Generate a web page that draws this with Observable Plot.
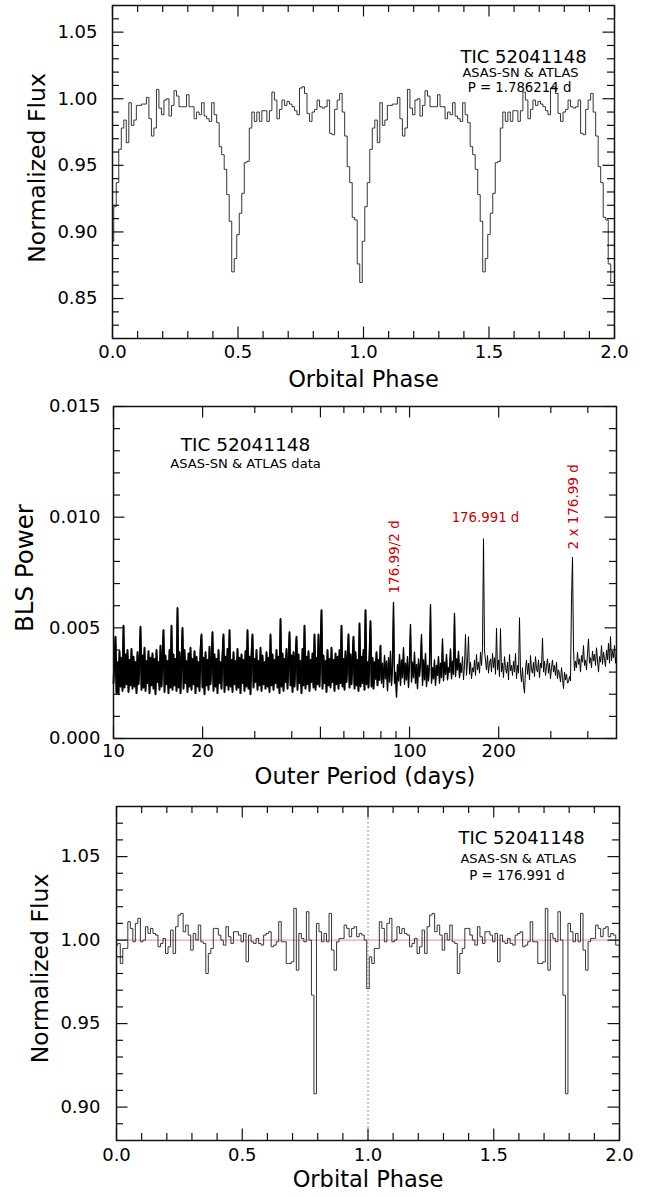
<!DOCTYPE html>
<html>
<head>
<meta charset="utf-8">
<script src="https://cdn.jsdelivr.net/npm/d3@7"></script>
<script src="https://cdn.jsdelivr.net/npm/@observablehq/plot@0.6"></script>
<style>
  html, body { margin: 0; padding: 0; background: #fff; }
  #wrap { position: relative; width: 656px; height: 1197px; overflow: hidden; background: #fff; }
  #wrap > svg { position: absolute; left: 0; }
</style>
</head>
<body>
<div id="wrap"></div>
<script>
// ---------------- DATA ----------------
const starName = "TIC 52041148";
const surveys = "ASAS-SN & ATLAS";

// Panel 1: folded light curve, P = 1.786214 d, bins of 0.01 in phase (centres 0.00 .. 0.99)
const binWidth = 0.01;
const innerFlux = [
  0.893,0.919,0.937,0.962,0.978,0.984,0.967,0.997,0.980,0.984,
  0.995,0.995,0.996,0.996,1.001,0.985,0.972,0.978,1.007,0.993,
  0.988,0.999,1.000,0.987,0.995,1.006,1.002,0.994,0.994,0.994,
  1.003,0.994,0.994,0.985,0.990,0.988,0.997,0.987,0.985,0.983,
  0.997,0.988,0.982,0.964,0.958,0.947,0.928,0.908,0.870,0.880,
  0.898,0.914,0.929,0.952,0.953,0.978,0.990,0.983,0.990,0.983,
  0.991,0.991,0.983,0.991,1.005,0.999,0.985,0.992,0.999,0.995,
  0.998,0.996,0.994,0.991,0.988,1.008,1.009,1.004,0.989,0.983,
  0.990,0.992,0.999,0.994,0.993,0.994,0.999,0.974,0.973,0.992,
  0.999,1.004,0.990,0.972,0.949,0.937,0.911,0.909,0.876,0.862
];

// Panel 2: BLS power (x 1e-5) on a log-uniform period grid from 10 to 500 d
const periodMin = 10, periodMax = 500;
const blsPowerE5 = [
  250,380,460,205,345,200,395,235,365,215,510,230,380,245,400,210,355,240,405,225,
  370,235,345,205,390,245,355,505,220,375,230,410,215,350,250,395,205,365,240,385,
  225,360,200,400,255,345,220,420,235,365,490,210,375,245,350,205,400,230,510,220,
  380,240,360,215,590,230,390,205,355,500,225,400,250,350,210,385,235,410,220,360,
  245,395,205,370,235,345,215,405,470,230,365,200,390,240,355,220,415,245,350,480,
  215,380,235,360,205,400,250,345,225,385,470,210,370,240,405,220,490,235,355,210,
  390,245,350,220,405,230,365,205,380,250,355,215,395,235,490,225,370,200,385,470,
  230,360,255,400,220,350,240,410,215,375,245,345,225,390,235,365,210,470,240,380,
  220,355,250,400,230,370,205,540,235,385,215,360,255,405,225,350,480,240,375,210,
  390,235,360,460,220,380,250,350,205,405,240,510,225,370,245,395,215,355,255,385,
  230,470,220,365,245,470,235,390,580,225,375,250,350,210,400,240,360,230,410,255,
  355,215,385,245,370,225,400,250,510,235,360,220,395,255,350,470,230,380,245,365,
  460,225,390,240,355,215,520,235,370,250,400,220,580,245,345,230,385,530,235,365,
  225,345,270,390,240,355,265,420,250,340,230,375,270,350,215,365,255,395,240,330,
  615,250,300,187,335,260,380,240,355,275,410,245,340,265,370,230,350,515,255,345,
  275,390,250,335,225,360,280,345,470,240,355,265,385,235,330,260,345,605,250,320,
  270,355,240,330,285,370,250,340,275,450,260,345,290,380,265,320,300,405,270,350,
  290,565,280,360,310,395,275,340,300,370,265,330,470,285,350,460,290,345,270,320,
  300,355,285,380,310,345,295,390,330,410,903,400,350,310,375,295,340,360,300,385,
  320,365,290,498,310,355,280,496,300,340,275,370,320,295,345,265,380,305,330,285,
  350,300,385,270,330,295,546,300,255,320,240,205,310,355,290,340,265,375,310,295,
  345,280,370,315,300,355,275,340,320,454,300,350,285,325,360,295,340,270,320,355,
  300,330,285,345,270,310,290,255,320,275,226,300,265,290,250,256,280,260,630,820,
  400,305,350,320,390,335,360,300,375,345,420,330,355,310,385,450,340,365,320,395,
  350,380,330,410,355,300,370,345,420,335,390,360,325,400,355,430,340,460,350,395,
  365,420,340,390
];
// the short-period part of the periodogram is sampled far more densely than the long-period part
const densePeriodLimit = 80, mediumPeriodLimit = 150;
const peakNotes = [
  {label: "176.99/2 d", period: 88.5, power: 0.00655},
  {label: "176.991 d", period: 176.991, power: 0.00976},
  {label: "2 x 176.99 d", period: 353.98, power: 0.00854}
];

// Panel 3: folded light curve, P = 176.991 d (phase 0.00-0.99 and 1.00-1.99)
const outerFluxCycle1 = [
  0.997,0.998,0.986,0.995,0.995,1.011,1.007,0.999,1.010,1.013,
  0.999,1.000,1.008,1.004,1.007,1.004,1.003,0.996,0.998,1.001,
  0.992,0.996,1.006,0.992,1.008,1.015,1.016,1.005,1.009,1.003,
  0.994,1.004,1.000,1.009,0.999,0.998,0.980,0.992,0.995,1.007,
  1.007,1.003,1.000,0.997,1.008,1.002,0.998,1.005,1.005,1.003,
  0.999,1.004,0.987,1.003,0.999,0.998,1.001,0.998,0.997,1.003,
  1.004,1.005,0.996,0.997,0.999,1.011,0.999,0.999,0.986,0.986,
  0.987,1.019,0.982,1.004,1.001,0.999,1.017,1.000,0.967,0.908,
  1.010,1.005,0.999,1.004,0.999,1.016,0.994,0.982,0.999,1.001,
  1.001,1.009,1.007,1.002,1.007,1.008,1.002,1.004,1.003,1.000
];
const outerFluxCycle2 = [
  0.971,0.990,0.986,0.995,0.995,1.011,1.007,0.999,1.010,1.013,
  0.999,1.000,1.008,1.004,1.007,1.004,1.003,0.996,0.998,1.001,
  0.992,0.996,1.006,0.992,1.008,1.015,1.016,1.005,1.009,1.003,
  0.994,1.004,1.000,1.009,0.999,0.998,0.980,0.992,0.995,1.007,
  1.007,1.003,1.000,0.997,1.008,1.002,0.998,1.005,1.005,1.003,
  0.999,1.004,0.987,1.003,0.999,0.998,1.001,0.998,0.997,1.003,
  1.004,1.005,0.996,0.997,0.999,1.011,0.999,0.999,0.986,0.986,
  0.987,1.019,0.982,1.004,1.001,0.999,1.017,1.000,0.967,0.908,
  1.010,1.005,0.999,1.004,0.999,1.016,0.994,0.982,0.999,1.001,
  1.001,1.009,1.007,1.002,1.007,1.008,1.002,1.004,1.003,0.997
];
const referenceFlux = 1.0;
const referencePhase = 1.0;

// Ticks
const phaseTicks = [0, 0.5, 1, 1.5, 2];
const phaseTickLabels = ["0.0", "0.5", "1.0", "1.5", "2.0"];
const innerFluxTicks = [0.85, 0.90, 0.95, 1.00, 1.05];
const innerFluxTickLabels = ["0.85", "0.90", "0.95", "1.00", "1.05"];
const outerFluxTicks = [0.90, 0.95, 1.00, 1.05];
const outerFluxTickLabels = ["0.90", "0.95", "1.00", "1.05"];
const powerTicks = [0, 0.005, 0.010, 0.015];
const powerTickLabels = ["0.000", "0.005", "0.010", "0.015"];
const periodTicks = [10, 20, 50, 100, 200];
const periodTickLabels = ["10", "20", "50", "100", "200"];
const periodMinorTicks = [30, 40, 60, 70, 80, 90, 300, 400];

// ---------------- BUILD ----------------
const FONT = "DejaVu Sans";
const RED = "#cc0000";
const CURVE = "#353535";
const wrap = document.getElementById("wrap");

function foldedSeries(cycles) {
  const out = [];
  cycles.forEach((vals, c) => vals.forEach((f, k) => out.push({phase: c + k * binWidth, flux: f})));
  const last = out[out.length - 1];
  out.push({phase: cycles.length, flux: last.flux});
  return out;
}
function minorRange(a, b, step, skipEvery) {
  const r = [];
  for (let i = a; i <= b; i++) if (i % skipEvery !== 0) r.push(+(i * step).toFixed(6));
  return r;
}
function inwardTicks(fw, fh, xMaj, xMin, yMaj, yMin) {
  const L = 11.5, l = 7;
  const s = {stroke: "#111", strokeWidth: 1.2};
  return [
    Plot.ruleX(xMaj, {x: d => d, insetTop: fh - L, ...s}),
    Plot.ruleX(xMaj, {x: d => d, insetBottom: fh - L, ...s}),
    Plot.ruleX(xMin, {x: d => d, insetTop: fh - l, ...s}),
    Plot.ruleX(xMin, {x: d => d, insetBottom: fh - l, ...s}),
    Plot.ruleY(yMaj, {y: d => d, insetRight: fw - L, ...s}),
    Plot.ruleY(yMaj, {y: d => d, insetLeft: fw - L, ...s}),
    Plot.ruleY(yMin, {y: d => d, insetRight: fw - l, ...s}),
    Plot.ruleY(yMin, {y: d => d, insetLeft: fw - l, ...s})
  ];
}
function place(svg, top) {
  svg.style.top = top + "px";
  wrap.appendChild(svg);
}
const baseStyle = {fontFamily: FONT, fontSize: "18px", color: "black", background: "white", overflow: "visible"};
const note = (txt, cx, baseline, size, mL, mT) =>
  Plot.text([txt], {text: d => d, frameAnchor: "top-left", dx: cx - mL, dy: baseline - mT,
    textAnchor: "middle", lineAnchor: "bottom", fontSize: size});
const yTitle = (txt, dx, dy, size) =>
  Plot.text([txt], {text: d => d, frameAnchor: "left", rotate: -90, dx, dy,
    textAnchor: "middle", lineAnchor: "middle", fontSize: size});
const xTitle = (txt, dy, size) =>
  Plot.text([txt], {text: d => d, frameAnchor: "bottom", dy, textAnchor: "middle", lineAnchor: "bottom", fontSize: size});

// ---- Panel 1 ----
{
  const W = 656, H = 395, mL = 112, mR = 42, mT = 5, mB = 57;
  const fw = W - mL - mR, fh = H - mT - mB;
  const data = foldedSeries([innerFlux, innerFlux]);
  const svg = Plot.plot({
    width: W, height: H, marginLeft: mL, marginRight: mR, marginTop: mT, marginBottom: mB,
    style: baseStyle,
    x: {domain: [0, 2], label: null},
    y: {domain: [0.82, 1.07], label: null},
    marks: [
      Plot.line(data, {x: "phase", y: "flux", curve: "step", stroke: CURVE, strokeWidth: 1}),
      ...inwardTicks(fw, fh, phaseTicks, minorRange(1, 19, 0.1, 5), innerFluxTicks, minorRange(83, 106, 0.01, 5)),
      Plot.frame({stroke: "#111", strokeWidth: 1.5}),
      Plot.axisX(phaseTicks, {anchor: "bottom", tickSize: 0, tickPadding: 7, fontSize: 18, label: null,
        tickFormat: d => phaseTickLabels[phaseTicks.indexOf(d)]}),
      Plot.axisY(innerFluxTicks, {anchor: "left", tickSize: 0, tickPadding: 15, fontSize: 18, label: null,
        tickFormat: d => innerFluxTickLabels[innerFluxTicks.indexOf(d)]}),
      xTitle("Orbital Phase", 48, 22.5),
      yTitle("Normalized Flux", -75, -4, 23.5),
      note(starName, 523, 62.5, 18, mL, mT),
      note(surveys, 520, 76.5, 13, mL, mT),
      note("P = 1.786214 d", 519, 91, 13.3, mL, mT)
    ]
  });
  place(svg, 0);
}

// ---- Panel 2 ----
{
  const W = 656, H = 400, mL = 113, mR = 40, mT = 11, mB = 57, top = 395;
  const fw = W - mL - mR, fh = H - mT - mB;
  const n = blsPowerE5.length;
  const bls = blsPowerE5.map((v, i) => ({
    period: periodMin * Math.pow(periodMax / periodMin, i / (n - 1)),
    power: v * 1e-5
  }));
  const svg = Plot.plot({
    width: W, height: H, marginLeft: mL, marginRight: mR, marginTop: mT, marginBottom: mB,
    style: baseStyle,
    x: {type: "log", domain: [periodMin, periodMax], label: null},
    y: {domain: [0, 0.015], label: null},
    marks: [
      Plot.line(bls, {x: "period", y: "power", stroke: "#000", strokeWidth: 1}),
      Plot.line(bls, {filter: d => d.period <= mediumPeriodLimit, x: "period", y: "power", stroke: "#000", strokeWidth: 1.3}),
      Plot.line(bls, {filter: d => d.period <= densePeriodLimit, x: "period", y: "power", stroke: "#000", strokeWidth: 1.8}),
      ...inwardTicks(fw, fh, periodTicks, periodMinorTicks, powerTicks, minorRange(1, 14, 0.001, 5)),
      Plot.frame({stroke: "#111", strokeWidth: 1.5}),
      Plot.axisX(periodTicks, {anchor: "bottom", tickSize: 0, tickPadding: 6, fontSize: 18, label: null,
        tickFormat: d => periodTickLabels[periodTicks.indexOf(d)]}),
      Plot.axisY(powerTicks, {anchor: "left", tickSize: 0, tickPadding: 13, fontSize: 18, label: null,
        tickFormat: d => powerTickLabels[powerTicks.indexOf(d)]}),
      xTitle("Outer Period (days)", 45, 22.7),
      yTitle("BLS Power", -88, -4.5, 24.5),
      note(starName, 245, 450 - top, 18.5, mL, mT),
      note(surveys + " data", 245, 467.5 - top, 13.1, mL, mT),
      Plot.text([peakNotes[0], peakNotes[2]], {x: "period", y: "power", text: "label", rotate: -90, textAnchor: "start", lineAnchor: "bottom", dx: 5.5, fill: RED, fontSize: 13.5}),
      Plot.text([peakNotes[1]], {x: "period", y: "power", text: "label", textAnchor: "middle", lineAnchor: "bottom", dx: 2.5, fill: RED, fontSize: 13.3})
    ]
  });
  place(svg, top);
}

// ---- Panel 3 ----
{
  const W = 656, H = 402, mL = 116, mR = 37, mT = 11, mB = 57, top = 795;
  const fw = W - mL - mR, fh = H - mT - mB;
  const data = foldedSeries([outerFluxCycle1, outerFluxCycle2]);
  const svg = Plot.plot({
    width: W, height: H, marginLeft: mL, marginRight: mR, marginTop: mT, marginBottom: mB,
    style: baseStyle,
    x: {domain: [0, 2], label: null},
    y: {domain: [0.88, 1.08], label: null},
    marks: [
      Plot.ruleX([referencePhase], {stroke: "#9a9a9a", strokeWidth: 1, strokeDasharray: "2,2"}),
      Plot.ruleY([referenceFlux], {stroke: "#ef8a8a", strokeWidth: 1}),
      Plot.line(data, {x: "phase", y: "flux", curve: "step", stroke: CURVE, strokeWidth: 1}),
      ...inwardTicks(fw, fh, phaseTicks, minorRange(1, 19, 0.1, 5), outerFluxTicks, minorRange(89, 107, 0.01, 5)),
      Plot.frame({stroke: "#111", strokeWidth: 1.5}),
      Plot.axisX(phaseTicks, {anchor: "bottom", tickSize: 0, tickPadding: 8, fontSize: 18, label: null,
        tickFormat: d => phaseTickLabels[phaseTicks.indexOf(d)]}),
      Plot.axisY(outerFluxTicks, {anchor: "left", tickSize: 0, tickPadding: 16, fontSize: 18, label: null,
        tickFormat: d => outerFluxTickLabels[outerFluxTicks.indexOf(d)]}),
      xTitle("Orbital Phase", 46.5, 22.5),
      yTitle("Normalized Flux", -76, -5, 23.5),
      note(starName, 521, 843 - top, 18, mL, mT),
      note(surveys, 518, 862 - top, 13, mL, mT),
      note("P = 176.991 d", 516.5, 879 - top, 13.3, mL, mT)
    ]
  });
  place(svg, top);
}
</script>
</body>
</html>
